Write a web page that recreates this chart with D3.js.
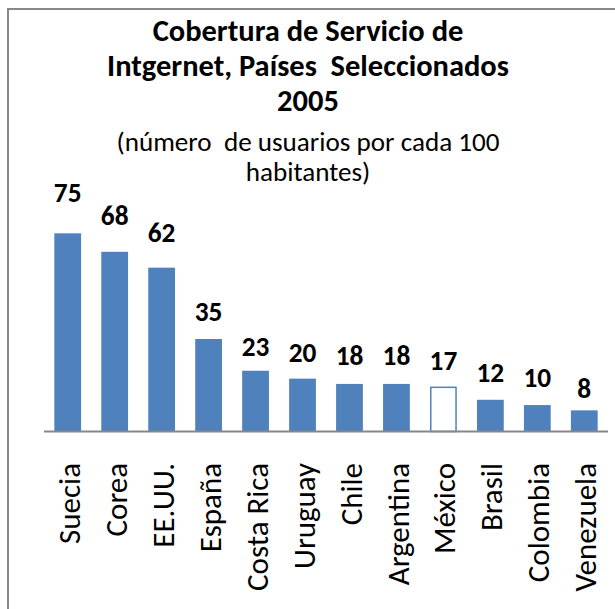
<!DOCTYPE html>
<html>
<head>
<meta charset="utf-8">
<script src="https://cdn.jsdelivr.net/npm/d3@7"></script>
<style>
  html, body { margin: 0; padding: 0; background: #fff; }
  svg { display: block; }
  text { white-space: pre; }
</style>
</head>
<body>
<script>
// ---- data ----
const categories = ["Suecia", "Corea", "EE.UU.", "España", "Costa Rica", "Uruguay", "Chile", "Argentina", "México", "Brasil", "Colombia", "Venezuela"];
const values = [75, 68, 62, 35, 23, 20, 18, 18, 17, 12, 10, 8];
const highlighted = ["México"];
const titleLines = ["Cobertura de Servicio de", "Intgernet, Países  Seleccionados", "2005"];
const subtitleLines = ["(número  de usuarios por cada 100", "habitantes)"];

// ---- layout ----
const W = 615, H = 609;
const FONT = "Carlito, Calibri, Lato, 'Open Sans', sans-serif";
const BLUE = "#4F81BD";
// manual vertical placement of value labels (gap above bar top, px)
const labelGap = [31, 27, 26, 18, 15, 17, 19, 19, 17, 18, 18, 12];

const svg = d3.select("body").append("svg").attr("width", W).attr("height", H);

// chart border (only top & left are visible in the crop)
svg.append("path")
  .attr("d", `M8,${H + 5} L8,9 L${W + 5},9`)
  .attr("fill", "none").attr("stroke", "#888").attr("stroke-width", 2);

// helper: fit a font size so that a sample string reaches a target width
function fitSize(sample, weight, target) {
  const t = svg.append("text").attr("font-family", FONT).attr("font-weight", weight)
    .attr("font-size", 100).text(sample);
  const w = t.node().getComputedTextLength();
  t.remove();
  return 100 * target / w;
}

const titleSize = fitSize(titleLines[1], "bold", 402);
const subSize = fitSize(subtitleLines[0], "normal", 383);
const catSize = fitSize("Costa Rica", "normal", 128);
const valSize = fitSize("75", "bold", 27.7);

const cx = 308;
const titleBase = [41, 76, 111];
svg.append("g").selectAll("text").data(titleLines).join("text")
  .attr("x", cx).attr("y", (d, i) => titleBase[i])
  .attr("text-anchor", "middle")
  .attr("font-family", FONT).attr("font-weight", "bold").attr("font-size", titleSize)
  .attr("fill", "#000").text(d => d);

const subBase = [151, 181];
svg.append("g").selectAll("text").data(subtitleLines).join("text")
  .attr("x", cx).attr("y", (d, i) => subBase[i])
  .attr("text-anchor", "middle")
  .attr("font-family", FONT).attr("font-size", subSize)
  .attr("fill", "#000").text(d => d);

// scales
const x = d3.scaleBand().domain(categories).range([44, 608]).paddingInner(0.43).paddingOuter(0.22);
const y = d3.scaleLinear().domain([0, 80]).range([431.5, 431.5 - 211.4]);

const data = categories.map((c, i) => ({ c, v: values[i], i }));

// bars
svg.append("g").selectAll("rect").data(data).join("rect")
  .attr("x", d => highlighted.includes(d.c) ? x(d.c) + 0.75 : x(d.c))
  .attr("y", d => y(d.v) + (highlighted.includes(d.c) ? 0.75 : 0))
  .attr("width", d => highlighted.includes(d.c) ? x.bandwidth() - 1.5 : x.bandwidth())
  .attr("height", d => y(0) - y(d.v) - (highlighted.includes(d.c) ? 0.75 : 0))
  .attr("fill", d => highlighted.includes(d.c) ? "#fff" : BLUE)
  .attr("stroke", d => highlighted.includes(d.c) ? BLUE : "none")
  .attr("stroke-width", 1.5);

// axis
const xAxis = d3.axisBottom(x).tickSize(0).tickPadding(0);
const ax = svg.append("g").attr("transform", `translate(0,${y(0)})`).call(xAxis);
ax.select(".domain").attr("stroke", "#878787").attr("stroke-width", 2)
  .attr("d", `M${x.range()[0]},0H${x.range()[1]}`);
ax.selectAll(".tick text")
  .attr("font-family", FONT).attr("font-size", catSize).attr("fill", "#000")
  .attr("text-anchor", "end")
  .attr("transform", "rotate(-90)")
  .attr("x", -(463 - y(0)))
  .attr("y", 0)
  .attr("dy", "0.39em");

// value labels
svg.append("g").selectAll("text").data(data).join("text")
  .attr("x", d => x(d.c) + x.bandwidth() / 2)
  .attr("y", d => y(d.v) - labelGap[d.i])
  .attr("text-anchor", "middle")
  .attr("font-family", FONT).attr("font-weight", "bold").attr("font-size", valSize)
  .attr("fill", "#000").text(d => d.v);
</script>
</body>
</html>
